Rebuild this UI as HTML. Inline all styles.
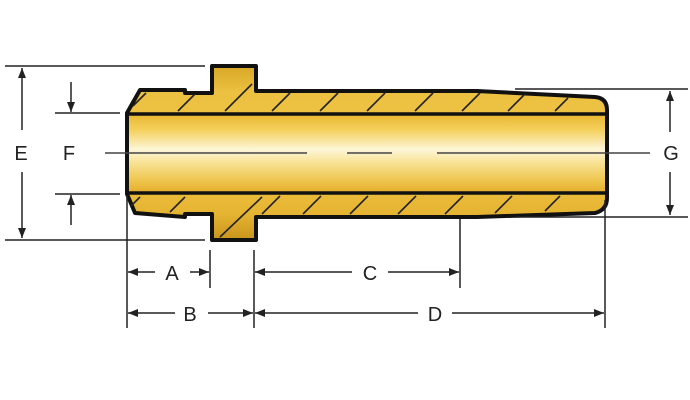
<!DOCTYPE html>
<html><head><style>body{margin:0;background:#fff}svg{display:block}</style></head><body>
<svg width="690" height="400" viewBox="0 0 690 400" xmlns="http://www.w3.org/2000/svg" font-family="Liberation Sans, sans-serif">
<defs>
<linearGradient id="g" x1="0" y1="0" x2="0" y2="1">
<stop offset="0" stop-color="#d8a828"/><stop offset="0.15" stop-color="#ecc040"/>
<stop offset="0.5" stop-color="#f0c848"/><stop offset="0.85" stop-color="#e6b432"/>
<stop offset="1" stop-color="#c8941c"/></linearGradient>
<linearGradient id="b" x1="0" y1="0" x2="0" y2="1">
<stop offset="0" stop-color="#e8b630"/><stop offset="0.2" stop-color="#f4d05c"/>
<stop offset="0.45" stop-color="#fdf6d8"/><stop offset="0.6" stop-color="#f8e49a"/>
<stop offset="0.85" stop-color="#efc44c"/><stop offset="1" stop-color="#e2ac2a"/></linearGradient>
<marker id="ar" markerWidth="10" markerHeight="8" refX="10" refY="4" orient="auto" markerUnits="userSpaceOnUse"><path d="M0,0 L10,4 L0,8z" fill="#222"/></marker>
</defs>
<path d="M127,113 L127,194 L135,213 L185,217 L185,214 L212,214 L212,240 L256,240 L256,217 L477,217 L595,213 Q607,210 607,198 L607,110 Q607,98 595,97 L477,91 L256,91 L256,66 L212,66 L212,93 L185,93 L185,90 L140,90 Z" fill="url(#g)" stroke="#111" stroke-width="4" stroke-linejoin="round"/>
<rect x="127" y="114" width="480" height="79" fill="url(#b)"/>
<line x1="127" y1="114" x2="607" y2="114" stroke="#111" stroke-width="3.5"/>
<line x1="127" y1="193" x2="607" y2="193" stroke="#111" stroke-width="3.5"/>
<line x1="127" y1="113" x2="127" y2="194" stroke="#111" stroke-width="4"/>
<line x1="607" y1="110" x2="607" y2="198" stroke="#111" stroke-width="4"/>
<g stroke="#222" stroke-width="1.6">
<line x1="133" y1="106" x2="146" y2="93"/><line x1="178" y1="111" x2="195" y2="94"/>
<line x1="225" y1="111" x2="252" y2="84"/><line x1="272" y1="111" x2="290" y2="93"/>
<line x1="320" y1="111" x2="338" y2="93"/><line x1="367" y1="111" x2="385" y2="93"/>
<line x1="415" y1="111" x2="433" y2="93"/><line x1="462" y1="111" x2="480" y2="93"/>
<line x1="508" y1="111" x2="525" y2="94"/><line x1="555" y1="111" x2="568" y2="98"/>
<line x1="131" y1="206" x2="140" y2="197"/><line x1="170" y1="212" x2="185" y2="197"/>
<line x1="220" y1="237" x2="262" y2="197" /><line x1="262" y1="214" x2="280" y2="196"/>
<line x1="303" y1="214" x2="321" y2="196"/><line x1="350" y1="214" x2="368" y2="196"/>
<line x1="398" y1="214" x2="416" y2="196"/><line x1="445" y1="214" x2="463" y2="196"/>
<line x1="495" y1="213" x2="512" y2="196"/><line x1="545" y1="211" x2="560" y2="196"/>
</g>
<g stroke="#444" stroke-width="1.6">
<line x1="105" y1="153" x2="307" y2="153"/><line x1="347" y1="153" x2="392" y2="153"/><line x1="437" y1="153" x2="650" y2="153"/>
</g>
<g stroke="#222" stroke-width="1.5" fill="none">
<line x1="5" y1="66" x2="205" y2="66"/><line x1="5" y1="240" x2="205" y2="240"/>
<line x1="22" y1="130" x2="22" y2="68" marker-end="url(#ar)"/><line x1="22" y1="172" x2="22" y2="238" marker-end="url(#ar)"/>
<line x1="55" y1="113" x2="120" y2="113"/><line x1="55" y1="194" x2="120" y2="194"/>
<line x1="71" y1="82" x2="71" y2="112" marker-end="url(#ar)"/><line x1="71" y1="225" x2="71" y2="195" marker-end="url(#ar)"/>
<line x1="515" y1="89" x2="688" y2="89"/><line x1="515" y1="217" x2="688" y2="217"/>
<line x1="670" y1="132" x2="670" y2="91" marker-end="url(#ar)"/><line x1="670" y1="172" x2="670" y2="215" marker-end="url(#ar)"/>
<line x1="127" y1="196" x2="127" y2="328"/><line x1="210" y1="250" x2="210" y2="288"/>
<line x1="254" y1="250" x2="254" y2="328"/><line x1="460" y1="219" x2="460" y2="288"/>
<line x1="605" y1="200" x2="605" y2="328"/>
<line x1="155" y1="272" x2="128" y2="272" marker-end="url(#ar)"/><line x1="190" y1="272" x2="209" y2="272" marker-end="url(#ar)"/>
<line x1="352" y1="272" x2="255" y2="272" marker-end="url(#ar)"/><line x1="388" y1="272" x2="459" y2="272" marker-end="url(#ar)"/>
<line x1="175" y1="313" x2="128" y2="313" marker-end="url(#ar)"/><line x1="208" y1="313" x2="253" y2="313" marker-end="url(#ar)"/>
<line x1="418" y1="313" x2="255" y2="313" marker-end="url(#ar)"/><line x1="452" y1="313" x2="604" y2="313" marker-end="url(#ar)"/>
</g>
<g font-size="20" fill="#222" text-anchor="middle">
<text x="21" y="160">E</text><text x="69" y="160">F</text><text x="671" y="160">G</text>
<text x="172" y="280">A</text><text x="370" y="280">C</text>
<text x="190" y="321">B</text><text x="435" y="321">D</text>
</g>
</svg>
</body></html>
